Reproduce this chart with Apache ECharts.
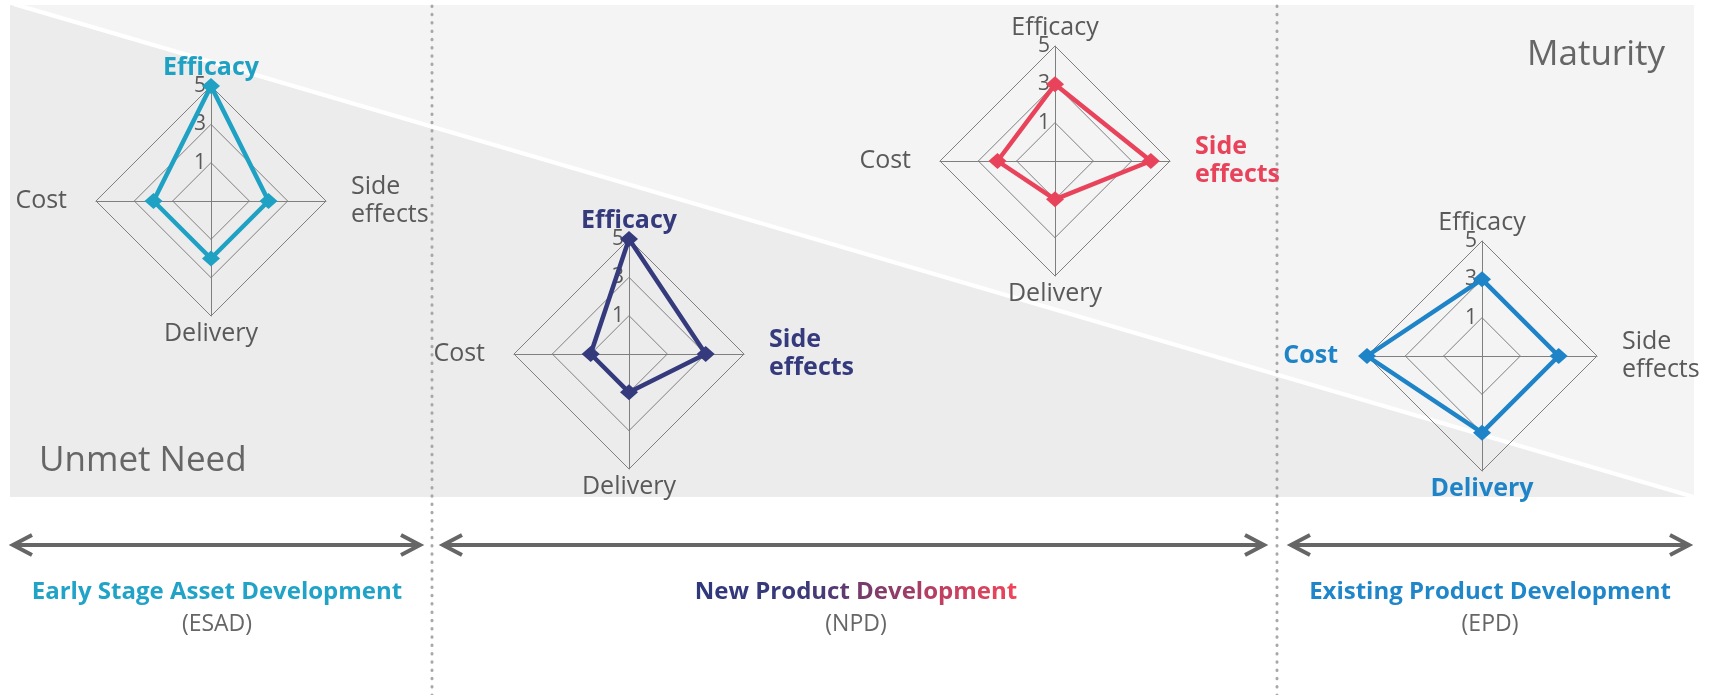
<!DOCTYPE html>
<html>
<head>
<meta charset="utf-8">
<script src="https://cdn.jsdelivr.net/npm/echarts@6/dist/echarts.min.js"></script>
<style>
html,body{margin:0;padding:0;background:#ffffff;}
#chart{width:1711px;height:695px;}
</style>
</head>
<body>
<div id="chart"></div>
<script>
// ---- data ----
// indicators listed counter-clockwise starting at the top (ECharts radar order)
const indicators = ['Efficacy', 'Cost', 'Delivery', 'Side effects'];
const scaleMin = -1;
const scaleMax = 5;
const scaleStep = 2;            // tick labels 1, 3, 5
const esadValues = [5, 2, 2, 2];
const npdEarlyValues = [5, 1, 1, 3];
const npdLateValues = [3, 2, 1, 4];
const epdValues = [3, 5, 3, 3];
const esadHighlight = ['Efficacy'];
const npdEarlyHighlight = ['Efficacy', 'Side effects'];
const npdLateHighlight = ['Side effects'];
const epdHighlight = ['Cost', 'Delivery'];
const stageTitles = ['Early Stage Asset Development', 'New Product Development', 'Existing Product Development'];
const stageCodes = ['(ESAD)', '(NPD)', '(EPD)'];
const cornerLabels = ['Unmet Need', 'Maturity'];

// ---- styling / layout ----
const FONT = '"Open Sans", "Noto Sans", sans-serif';
const GRAY_TEXT = '#595959';
const GRID = '#7f7f7f';
const R = 115;
const sideKeys = ['t', 'l', 'b', 'r'];

const charts = [
  { center: [211, 201], color: '#1fa1c4', values: esadValues, hl: esadHighlight },
  { center: [629, 354], color: '#353a7d', values: npdEarlyValues, hl: npdEarlyHighlight },
  { center: [1055, 161], color: '#e8435a', values: npdLateValues, hl: npdLateHighlight },
  { center: [1482, 356], color: '#1f84c7', values: epdValues, hl: epdHighlight }
];

function richFor(color) {
  const base = { fontSize: 25, fontFamily: FONT, color: GRAY_TEXT, lineHeight: 28 };
  const bold = Object.assign({}, base, { fontWeight: 'bold', color: color });
  const pads = { t: [0, 0, 0, 0], l: [0, 25, 0, 0], b: [0, 0, 0, 0], r: [0, 0, 0, 21] };
  const rich = {};
  sideKeys.forEach(k => {
    rich[k] = Object.assign({}, base, { padding: pads[k] });
    rich[k + 'B'] = Object.assign({}, bold, { padding: pads[k] });
  });
  return rich;
}

const radars = charts.map(c => ({
  center: c.center,
  radius: R,
  startAngle: 90,
  shape: 'polygon',
  splitNumber: (scaleMax - scaleMin) / scaleStep,
  indicator: indicators.map((name, i) => {
    const ind = { name: name, min: scaleMin, max: scaleMax, nameMoveOverlap: false };
    if (i === 0) ind.axisLabel = { show: true };
    return ind;
  }),
  nameGap: 4,
  axisName: {
    color: GRAY_TEXT,
    fontSize: 25,
    fontFamily: FONT,
    lineHeight: 28,
    rich: richFor(c.color),
    formatter: function (name) {
      const i = indicators.indexOf(name);
      const key = sideKeys[i] + (c.hl.indexOf(name) >= 0 ? 'B' : '');
      return name.split(' ').map(w => '{' + key + '|' + w + '}').join('\n');
    }
  },
  axisLine: { show: true, lineStyle: { color: GRID, width: 1 } },
  splitLine: { show: true, lineStyle: { color: GRID, width: 1 } },
  splitArea: { show: false },
  axisTick: { show: false },
  axisLabel: {
    show: false,
    color: GRAY_TEXT,
    fontSize: 21,
    fontFamily: FONT,
    margin: 5,
    padding: [8, 0, 0, 0],
    formatter: v => (v > scaleMin ? String(v) : '')
  }
}));

const series = charts.map((c, i) => ({
  type: 'radar',
  radarIndex: i,
  symbol: 'diamond',
  symbolSize: [18, 16],
  lineStyle: { color: c.color, width: 4.5 },
  itemStyle: { color: c.color },
  emphasis: { disabled: true },
  data: [{ value: c.values }]
}));

// ---- decorations ----
const gfx = [];
const bgL = 10, bgT = 5, bgR = 1694, bgB = 497;
gfx.push({ type: 'polygon', z: -100, shape: { points: [[bgL, bgT], [bgR, bgT], [bgR, bgB]] }, style: { fill: '#f4f4f4' } });
gfx.push({ type: 'polygon', z: -100, shape: { points: [[bgL, bgT], [bgR, bgB], [bgL, bgB]] }, style: { fill: '#ececec' } });
gfx.push({ type: 'line', z: -99, shape: { x1: 14, y1: 4, x2: bgR, y2: bgB }, style: { stroke: '#ffffff', lineWidth: 4 } });

[432, 1277].forEach(x => {
  gfx.push({ type: 'line', z: -50, shape: { x1: x, y1: 6, x2: x, y2: 695 },
    style: { stroke: '#a8a8a8', lineWidth: 3, lineDash: [0.5, 7.8], lineCap: 'round' } });
});

const arrowY = 545;
[[13, 420], [443, 1264], [1291, 1689]].forEach(([a, b]) => {
  const st = { stroke: '#666666', lineWidth: 4, fill: null, lineJoin: 'miter', lineCap: 'butt' };
  gfx.push({ type: 'line', z: 50, shape: { x1: a + 2, y1: arrowY, x2: b - 2, y2: arrowY }, style: Object.assign({}, st) });
  gfx.push({ type: 'polyline', z: 50, shape: { points: [[a + 19, arrowY - 10], [a, arrowY], [a + 19, arrowY + 10]] }, style: Object.assign({}, st) });
  gfx.push({ type: 'polyline', z: 50, shape: { points: [[b - 19, arrowY - 10], [b, arrowY], [b - 19, arrowY + 10]] }, style: Object.assign({}, st) });
});

// colour ramp for the NPD heading (navy -> red), applied per character via rich text
const npdRamp = [[0, '#2f387b'], [0.32, '#3c3a7a'], [0.55, '#7a3a6c'], [1, '#ef4459']];
function hexToRgb(h) { return [1, 3, 5].map(i => parseInt(h.substr(i, 2), 16)); }
function rampColor(t) {
  for (let k = 1; k < npdRamp.length; k++) {
    if (t <= npdRamp[k][0]) {
      const [t0, c0] = npdRamp[k - 1], [t1, c1] = npdRamp[k];
      const f = (t - t0) / (t1 - t0), a = hexToRgb(c0), b = hexToRgb(c1);
      return 'rgb(' + a.map((v, j) => Math.round(v + (b[j] - v) * f)).join(',') + ')';
    }
  }
  return npdRamp[npdRamp.length - 1][1];
}
function rampText(str) {
  const rich = {};
  let text = '';
  const n = str.length;
  for (let i = 0; i < n; i++) {
    const key = 'c' + i;
    rich[key] = { fill: rampColor(i / (n - 1)), fontWeight: 'bold', fontSize: 24, fontFamily: FONT };
    text += '{' + key + '|' + str[i] + '}';
  }
  return { text, rich };
}

const titleColors = ['#21a3c7', null, '#1f86c9'];
const titleX = [217, 856, 1490];
stageTitles.forEach((t, i) => {
  let style;
  if (titleColors[i]) {
    style = { text: t, fill: titleColors[i], font: 'bold 24px ' + FONT };
  } else {
    const rt = rampText(t);
    style = { text: rt.text, rich: rt.rich, font: 'bold 24px ' + FONT };
  }
  Object.assign(style, { x: titleX[i], y: 592, textAlign: 'center', align: 'center', textVerticalAlign: 'middle', verticalAlign: 'middle' });
  gfx.push({ type: 'text', z: 60, style: style });
  gfx.push({ type: 'text', z: 60, style: { text: stageCodes[i], x: titleX[i], y: 624, fill: '#666666',
    font: '23px ' + FONT, textAlign: 'center', align: 'center', textVerticalAlign: 'middle', verticalAlign: 'middle' } });
});
gfx.push({ type: 'text', z: 60, style: { text: cornerLabels[0], x: 39, y: 461, fill: '#666666',
  font: '35px ' + FONT, textAlign: 'left', align: 'left', textVerticalAlign: 'middle', verticalAlign: 'middle' } });
gfx.push({ type: 'text', z: 60, style: { text: cornerLabels[1], x: 1665, y: 55, fill: '#666666',
  font: '35px ' + FONT, textAlign: 'right', align: 'right', textVerticalAlign: 'middle', verticalAlign: 'middle' } });

const chart = echarts.init(document.getElementById('chart'), null, { renderer: 'canvas' });
chart.setOption({
  animation: false,
  backgroundColor: '#ffffff',
  textStyle: { fontFamily: FONT },
  radar: radars,
  series: series,
  graphic: { elements: gfx }
});
</script>
</body>
</html>
